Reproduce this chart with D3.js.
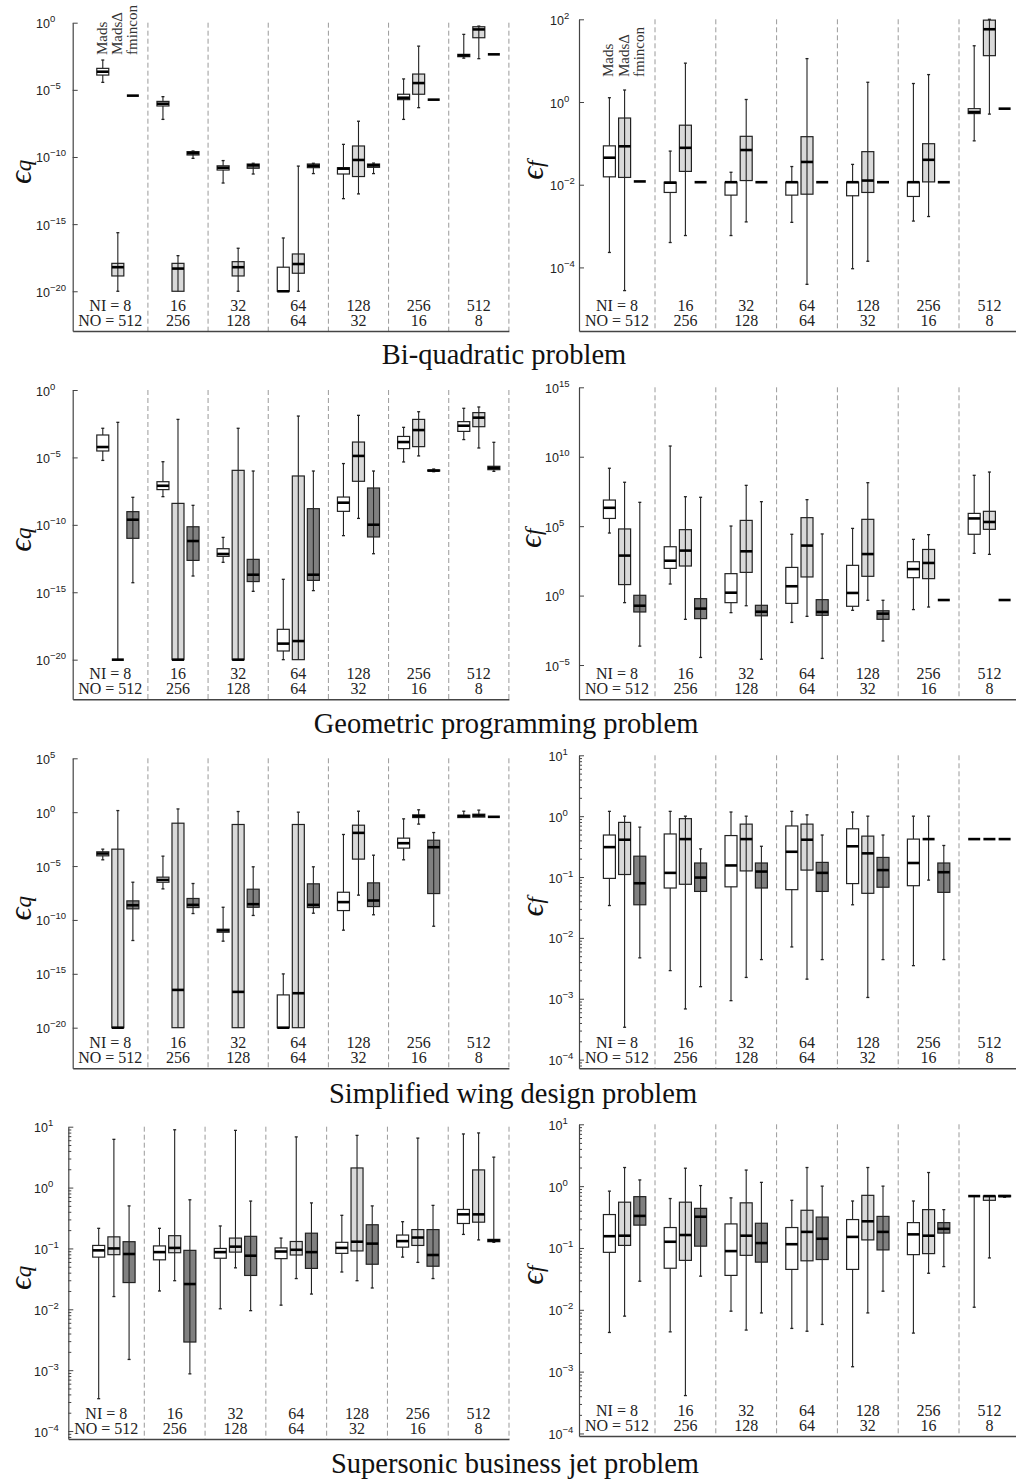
<!DOCTYPE html>
<html><head><meta charset="utf-8">
<script src="https://cdn.jsdelivr.net/npm/d3@7"></script>
<style>body{margin:0;background:#fff}</style>
</head><body><svg id="c" width="1016" height="1482"></svg>
<script>
// ---------------- DATA ----------------
const NI = [8, 16, 32, 64, 128, 256, 512];
const NO = [512, 256, 128, 64, 32, 16, 8];
const methods = ["Mads", "MadsΔ", "fmincon"];
const titles = ["Bi-quadratic problem", "Geometric programming problem", "Simplified wing design problem", "Supersonic business jet problem"];
// each box: [min, q1, median, q3, max]
const bqQ_mads = [[3.6e-5,1.26e-4,2.24e-4,3.98e-4,1.66e-3],[6.3e-8,6.3e-7,9.3e-7,1.38e-6,3.1e-6],[1.15e-12,1.07e-11,1.6e-11,2.2e-11,5.4e-11],[1e-20,1e-20,1e-20,6.2e-19,9.3e-17],[7.9e-14,5.4e-12,1.35e-11,1.6e-11,8.7e-10],[6.3e-8,1.86e-6,2.6e-6,4.7e-6,6.5e-5],[2.3e-3,2.95e-3,3.7e-3,4.4e-3,0.135]];
const bqQ_madsD = [[1e-20,1.38e-19,6.2e-19,1.2e-18,2.3e-16],[1e-20,1e-20,4.9e-19,1.2e-18,4.5e-18],[1e-20,1.38e-19,6.2e-19,1.6e-18,1.6e-17],[1e-20,2.2e-19,1.07e-18,6.0e-18,2.1e-11],[1.78e-13,3.5e-12,6.0e-11,6.6e-10,4.6e-8],[4.7e-7,4.7e-6,3.2e-5,1.5e-4,1.8e-2],[2.1e-3,7.6e-2,0.316,0.50,0.56]];
const bqQ_fmin = [[3.7e-6,3.7e-6,3.7e-6,3.7e-6,3.7e-6],[7.9e-11,1.41e-10,2.0e-10,2.5e-10,2.8e-10],[5.4e-12,1.45e-11,2.4e-11,3.0e-11,3.4e-11],[5.8e-12,1.6e-11,2.2e-11,3.0e-11,3.4e-11],[5.8e-12,1.7e-11,2.4e-11,3.0e-11,3.5e-11],[1.86e-6,1.86e-6,1.86e-6,1.86e-6,1.86e-6],[4.4e-3,4.4e-3,4.4e-3,4.4e-3,4.4e-3]];

const bqF_mads = [[2.3e-4,1.55e-2,4.5e-2,8.7e-2,1.27],[4.0e-4,6.5e-3,1.12e-2,1.15e-2,6.5e-2],[5.9e-4,5.6e-3,1.15e-2,1.15e-2,2.0e-2],[1.23e-3,5.6e-3,1.15e-2,1.15e-2,2.75e-2],[9.3e-5,5.4e-3,1.15e-2,1.15e-2,3.1e-2],[1.32e-3,5.2e-3,1.15e-2,1.15e-2,2.8],[0.115,0.525,0.575,0.69,22.9]];
const bqF_madsD = [[2.75e-5,1.5e-2,8.5e-2,0.41,1.95],[5.9e-4,2.1e-2,7.8e-2,0.275,8.7],[1.26e-3,1.26e-2,6.9e-2,0.148,1.15],[3.9e-5,5.9e-3,3.55e-2,0.145,11.2],[1.41e-4,6.5e-3,1.26e-2,6.3e-2,3.0],[1.7e-3,1.17e-2,4.0e-2,9.8e-2,4.6],[0.51,13.2,57.5,95.5,100]];
const bqF_fmin = [[1.2e-2,1.2e-2,1.2e-2,1.2e-2,1.2e-2],[1.15e-2,1.15e-2,1.15e-2,1.15e-2,1.15e-2],[1.15e-2,1.15e-2,1.15e-2,1.15e-2,1.15e-2],[1.15e-2,1.15e-2,1.15e-2,1.15e-2,1.15e-2],[1.15e-2,1.15e-2,1.15e-2,1.15e-2,1.15e-2],[1.15e-2,1.15e-2,1.15e-2,1.15e-2,1.15e-2],[0.69,0.69,0.69,0.69,0.69]];

const gpQ_mads = [[6.0e-6,3.0e-5,5.9e-5,4.6e-4,1.45e-3],[1.23e-8,4.1e-8,7.9e-8,1.58e-7,4.8e-6],[1.66e-13,4.6e-13,6.9e-13,1.7e-12,1.17e-11],[1e-20,4.4e-20,1.55e-19,1.78e-18,9.1e-15],[1.58e-11,1e-9,4.4e-9,1.15e-8,3.5e-6],[4.6e-6,4.5e-5,1.38e-4,3.6e-4,1.7e-3],[2.1e-4,8.5e-4,2.24e-3,4.5e-3,4.4e-2]];
const gpQ_madsD = [[1e-20,1e-20,1e-20,1e-20,4.0e-3],[1e-20,1e-20,1e-20,3.9e-9,6.6e-3],[1e-20,1e-20,1e-20,1.1e-6,1.45e-3],[1e-20,1e-20,2.4e-19,4.2e-7,1.17e-2],[3.0e-10,1.7e-7,1.29e-5,1.38e-4,1.32e-2],[1.29e-5,6.3e-5,1.07e-3,6.6e-3,2.45e-2],[5.0e-5,1.9e-3,8.9e-3,2.1e-2,5.5e-2]];
const gpQ_fmin = [[5.1e-15,1e-11,2.4e-10,9.5e-10,1.1e-8],[1.6e-14,2.3e-13,6.3e-12,7.2e-11,2.8e-9],[1.17e-15,6.2e-15,2.0e-14,2.75e-13,9.8e-7],[1.32e-15,7.6e-15,2.0e-14,1.58e-9,9.8e-7],[7.2e-13,1.26e-11,1.02e-10,5.4e-8,9.8e-7],[8.7e-7,9.8e-7,1.05e-6,1.17e-6,1.38e-6],[9.3e-7,1.23e-6,1.66e-6,2.2e-6,1.32e-4]];

const gpF_mads = [[3.2e4,3.6e5,2.1e6,7.6e6,1.48e9],[6.8,91,324,3.3e3,5.9e10],[5.9e-2,0.31,1.62,38,1.02e5],[1.17e-2,0.275,4.7,107,2.6e4],[8.7e-2,0.17,1.55,151,6.9e4],[9.8e-2,19.5,81,275,1.12e4],[1.1e3,2.6e4,3.6e5,8.3e5,4.6e8]];
const gpF_madsD = [[0.31,6.2,760,6.3e4,1.45e8],[1.95e-2,135,1.74e3,5.6e4,1.32e7],[0.186,47,1.55e3,2.6e5,8.7e7],[3.2e-2,22,4.0e3,4.1e5,8.1e6],[0.46,24.5,980,3.1e5,1.35e8],[0.15,16.6,224,2.1e3,2.45e4],[930,5.9e4,2.0e5,1.17e6,7.9e8]];
const gpF_fmin = [[2.3e-4,6.6e-2,0.186,1.05,5.2e6],[3.5e-5,2.2e-2,0.115,0.60,1.2e7],[2.6e-5,3.5e-2,6.9e-2,0.20,5.8e6],[3.0e-5,3.8e-2,6.6e-2,0.51,2.75e4],[5.4e-4,1.95e-2,5.0e-2,8.1e-2,0.46],[0.48,0.48,0.48,0.48,0.48],[0.48,0.48,0.48,0.48,0.48]];

const wgQ_mads = [[3.8e-5,8.9e-5,1.45e-4,2.1e-4,3.7e-4],[7.6e-8,3.16e-7,5.2e-7,9.3e-7,8.3e-5],[1.07e-12,7.2e-12,1.05e-11,1.38e-11,1.5e-9],[1e-20,1e-20,1e-20,1.1e-17,9.8e-16],[1.12e-11,7.4e-10,4.5e-9,3.7e-8,8.5e-3],[3.8e-5,4.6e-4,1.32e-3,3.9e-3,0.24],[0.316,0.316,0.43,0.525,1.23]];
const wgQ_madsD = [[1e-20,1e-20,1e-20,3.7e-4,1.41],[1e-20,1e-20,3.2e-17,9.5e-2,2.0],[1e-20,1e-20,2.1e-17,7.2e-2,1.15],[1e-20,1e-20,1.58e-17,7.2e-2,1.0],[2.0e-8,4.4e-5,1.2e-2,6.2e-2,1.23],[7.8e-2,0.316,0.43,0.56,1.66],[0.35,0.35,0.49,0.65,1.55]];
const wgQ_fmin = [[1.23e-12,1.07e-9,2.3e-9,5.9e-9,3.16e-7],[3.9e-10,1.41e-9,2.5e-9,9.8e-9,2.4e-7],[2.6e-10,1.5e-9,2.9e-9,7.1e-8,8.5e-6],[4.2e-10,1.41e-9,2.5e-9,2.24e-7,8.5e-6],[3.0e-10,1.74e-9,6.3e-9,2.75e-7,1.02e-4],[2.6e-11,2.8e-8,5.6e-4,2.5e-3,1.29e-2],[0.37,0.37,0.37,0.37,0.37]];

const wgF_mads = [[3.4e-2,9.5e-2,0.31,0.49,1.2],[2.9e-3,6.6e-2,0.117,0.51,1.2],[9.3e-4,6.9e-2,0.155,0.48,1.17],[7.1e-3,6.2e-2,0.26,0.69,1.2],[3.5e-2,7.8e-2,0.32,0.62,1.17],[3.5e-3,7.2e-2,0.17,0.42,1.0],[0.42,0.42,0.42,0.42,0.42]];
const wgF_madsD = [[3.4e-4,0.11,0.41,0.79,1.0],[6.8e-4,7.6e-2,0.42,0.91,1.0],[2.24e-3,0.126,0.42,0.74,1.0],[2.1e-3,0.13,0.41,0.74,1.05],[1.05e-3,5.4e-2,0.245,0.47,1.0],[8.9e-2,0.42,0.42,0.42,1.0],[0.42,0.42,0.42,0.42,0.42]];
const wgF_fmin = [[4.7e-3,3.5e-2,7.9e-2,0.22,0.66],[1.58e-3,5.8e-2,9.8e-2,0.17,0.29],[4.4e-3,6.6e-2,0.123,0.17,0.32],[4.4e-3,5.8e-2,0.117,0.174,0.49],[4.4e-3,6.8e-2,0.13,0.21,0.49],[4.4e-3,5.6e-2,0.12,0.17,0.33],[0.42,0.42,0.42,0.42,0.42]];

const sbQ_mads = [[3.4e-4,7.2e-2,9.3e-2,0.112,0.214],[2.0e-2,6.5e-2,8.7e-2,0.11,0.214],[1.02e-2,6.9e-2,8.7e-2,0.10,0.234],[1.17e-2,6.8e-2,8.9e-2,0.102,0.148],[4.1e-2,8.3e-2,0.102,0.126,0.35],[7.2e-2,0.105,0.132,0.166,0.275],[0.17,0.257,0.363,0.437,7.6]];
const sbQ_madsD = [[1.62e-2,7.9e-2,0.10,0.155,6.2],[2.95e-2,8.5e-2,0.102,0.162,8.9],[4.8e-2,8.7e-2,0.107,0.148,8.7],[3.2e-2,7.8e-2,9.5e-2,0.13,6.8],[2.95e-2,9.1e-2,0.129,2.1,7.2],[5.9e-2,0.112,0.151,0.204,6.5],[0.138,0.27,0.363,1.95,7.9]];
const sbQ_fmin = [[1.5e-3,2.75e-2,8.1e-2,0.129,0.50],[8.7e-4,2.9e-3,2.6e-2,9.3e-2,0.63],[9.5e-3,3.6e-2,7.6e-2,0.158,0.60],[1.78e-2,4.7e-2,8.7e-2,0.178,0.56],[2.24e-2,5.5e-2,0.12,0.245,0.50],[3.2e-2,5.1e-2,7.8e-2,0.204,0.51],[0.126,0.129,0.135,0.141,3.16]];

const sbF_mads = [[4.3e-3,8.5e-2,0.155,0.347,0.83],[4.4e-3,4.7e-2,0.126,0.214,0.63],[9.5e-3,3.6e-2,8.9e-2,0.245,0.646],[5.0e-3,4.5e-2,0.115,0.214,0.59],[1.2e-3,4.5e-2,0.151,0.288,0.575],[4.2e-3,7.8e-2,0.166,0.257,0.575],[1.1e-2,0.69,0.69,0.69,0.69]];
const sbF_madsD = [[7.9e-3,0.11,0.158,0.55,2.0],[4.1e-4,6.3e-2,0.162,0.55,1.95],[4.7e-3,7.6e-2,0.158,0.537,1.82],[4.5e-3,6.2e-2,0.182,0.407,2.0],[8.9e-3,0.135,0.27,0.71,2.0],[3.9e-2,8.1e-2,0.158,0.417,1.66],[6.9e-2,0.59,0.69,0.69,0.69]];
const sbF_fmin = [[2.9e-2,0.234,0.33,0.676,1.26],[3.5e-2,0.107,0.32,0.437,1.02],[8.9e-3,5.9e-2,0.12,0.251,1.15],[5.8e-3,6.5e-2,0.141,0.316,1.0],[2.0e-2,9.3e-2,0.182,0.324,1.0],[5.0e-2,0.174,0.204,0.257,0.417],[0.66,0.676,0.69,0.708,0.708]];

// tick values
const ticksQ20 = [1e0, 1e-5, 1e-10, 1e-15, 1e-20];
const ticksBqF = [1e2, 1e0, 1e-2, 1e-4];
const ticksGpF = [1e15, 1e10, 1e5, 1e0, 1e-5];
const ticksWgQ = [1e5, 1e0, 1e-5, 1e-10, 1e-15, 1e-20];
const ticksSmall = [1e1, 1e0, 1e-1, 1e-2, 1e-3, 1e-4];

// ---------------- LAYOUT ----------------
const fills = ["#ffffff", "#d9d9d9", "#808080"];
const panels = [
  {data:[bqQ_mads,bqQ_madsD,bqQ_fmin], lo:1.1e-23, hi:1,    x0:72.7, x1:508.9, top:22.7,  bottom:331,    ticks:ticksQ20,  minor:false, sub:"q", lx:36,    yl:31,  mlab:55},
  {data:[bqF_mads,bqF_madsD,bqF_fmin], lo:2.9e-6,  hi:100,  x0:579,  x1:1019.8,top:19.3,  bottom:331,    ticks:ticksBqF,  minor:false, sub:"f", lx:550,   yl:543, mlab:77},
  {data:[gpQ_mads,gpQ_madsD,gpQ_fmin], lo:1.15e-23,hi:1,    x0:72.7, x1:508.9, top:390,   bottom:699.3,  ticks:ticksQ20,  minor:false, sub:"q", lx:36,    yl:31},
  {data:[gpF_mads,gpF_madsD,gpF_fmin], lo:3.4e-8,  hi:1e15, x0:579,  x1:1019.8,top:387.3, bottom:699.3,  ticks:ticksGpF,  minor:false, sub:"f", lx:545,   yl:541},
  {data:[wgQ_mads,wgQ_madsD,wgQ_fmin], lo:1.7e-24, hi:1e5,  x0:72.7, x1:508.9, top:758.3, bottom:1068.3, ticks:ticksWgQ,  minor:false, sub:"q", lx:36,    yl:31},
  {data:[wgF_mads,wgF_madsD,wgF_fmin], lo:7.2e-5,  hi:10,   x0:579,  x1:1019.8,top:755.3, bottom:1068.3, ticks:ticksSmall,minor:true,  sub:"f", lx:548.5, yl:543},
  {data:[sbQ_mads,sbQ_madsD,sbQ_fmin], lo:7.4e-5,  hi:10,   x0:68.3, x1:509,   top:1126.7,bottom:1439,   ticks:ticksSmall,minor:true,  sub:"q", lx:34,    yl:31},
  {data:[sbF_mads,sbF_madsD,sbF_fmin], lo:9.1e-5,  hi:10,   x0:579,  x1:1019.8,top:1124.3,bottom:1436,   ticks:ticksSmall,minor:true,  sub:"f", lx:548.5, yl:543}
];
const titlePos = [[504,364],[506,733],[513,1103],[515,1473]];

const svg = d3.select("#c");
svg.append("rect").attr("width",1016).attr("height",1482).attr("fill","#fff");
const SERIF = "'Liberation Serif','DejaVu Serif',serif";
const SANS = "'Liberation Sans',Arial,sans-serif";

panels.forEach((p, pi) => {
  const g = svg.append("g");
  const x = d3.scaleLinear().domain([-2, 27]).range([p.x0, p.x1]);
  const y = d3.scaleLog().domain([p.lo, p.hi]).range([p.bottom, p.top]);
  const bw = 6;

  // group separators
  d3.range(7).forEach(k => {
    g.append("line").attr("x1", x(3 + 4*k)).attr("x2", x(3 + 4*k))
      .attr("y1", p.top).attr("y2", p.bottom)
      .attr("stroke", "#9a9a9a").attr("stroke-width", 1).attr("stroke-dasharray", "5,3");
  });

  // y axis (ticks pointing inward)
  const ax = g.append("g").attr("transform", `translate(${p.x0},0)`)
    .call(d3.axisRight(y).tickValues(p.ticks).tickSize(5).tickSizeOuter(0).tickFormat(""));
  ax.select(".domain").attr("stroke", "#444").attr("stroke-width", 1.2);
  ax.selectAll(".tick line").attr("stroke", "#444");
  if (p.minor) {
    const mv = [];
    for (let k = -5; k <= 1; k++) for (let m = 2; m <= 9; m++) {
      const v = m * Math.pow(10, k);
      if (v > p.lo && v < p.hi) mv.push(v);
    }
    const am = g.append("g").attr("transform", `translate(${p.x0},0)`)
      .call(d3.axisRight(y).tickValues(mv).tickSize(3).tickSizeOuter(0).tickFormat(""));
    am.select(".domain").remove();
    am.selectAll(".tick line").attr("stroke", "#444");
  }
  // x axis (bottom line only)
  const bx = g.append("g").attr("transform", `translate(0,${p.bottom})`)
    .call(d3.axisBottom(x).tickValues([]).tickSizeOuter(0));
  bx.select(".domain").attr("stroke", "#444").attr("stroke-width", 1.5);

  // tick labels 10^e
  p.ticks.forEach(v => {
    const e = Math.round(Math.log10(v));
    const t = g.append("text").attr("x", p.lx).attr("y", y(v) + 5.5)
      .attr("font-family", SANS).attr("font-size", 12.5).attr("fill", "#222");
    t.append("tspan").text("10");
    t.append("tspan").attr("font-size", 9.5).attr("dy", -6).text(e < 0 ? "−" + (-e) : String(e));
  });

  // y label
  const yl = g.append("text")
    .attr("transform", `translate(${p.yl},${(p.top + p.bottom)/2 - 5}) rotate(-90)`)
    .attr("text-anchor", "middle").attr("font-family", SERIF).attr("font-style", "italic").attr("fill", "#111");
  yl.append("tspan").attr("font-size", 32).text("ϵ");
  yl.append("tspan").attr("font-size", 23).attr("dy", 0).text(p.sub);

  // boxes
  p.data.forEach((series, s) => {
    series.forEach((st, gi) => {
      const [mn, q1, md, q3, mx] = st;
      const cx = x(gi*4 + s);
      const bg = g.append("g");
      if (q3 > q1) {
        bg.append("rect").attr("x", cx - bw).attr("width", 2*bw)
          .attr("y", y(q3)).attr("height", y(q1) - y(q3))
          .attr("fill", fills[s]).attr("stroke", "#222").attr("stroke-width", 1.2);
      }
      const wl = (a, b) => bg.append("line").attr("x1", cx).attr("x2", cx).attr("y1", y(a)).attr("y2", y(b))
        .attr("stroke", "#222").attr("stroke-width", 1.1);
      if (s === 0) {
        if (mx > q3) wl(mx, q3);
        if (mn < q1) wl(q1, mn);
      } else {
        if (mx > mn) wl(mx, mn);
      }
      const cap = v => bg.append("line").attr("x1", cx - 1.5).attr("x2", cx + 1.5).attr("y1", y(v)).attr("y2", y(v))
        .attr("stroke", "#222").attr("stroke-width", 1.3);
      if (mx > q3) cap(mx);
      if (mn < q1) cap(mn);
      bg.append("line").attr("x1", cx - bw).attr("x2", cx + bw).attr("y1", y(md)).attr("y2", y(md))
        .attr("stroke", "#000").attr("stroke-width", 2.6);
    });
  });

  // group labels
  NI.forEach((ni, gi) => {
    const cx = gi === 0 ? x(0.5) : x(gi*4 + 1);
    const t1 = gi === 0 ? "NI = " + ni : String(ni);
    const t2 = gi === 0 ? "NO = " + NO[gi] : String(NO[gi]);
    g.append("text").attr("x", cx).attr("y", p.bottom - 20).attr("text-anchor", "middle")
      .attr("font-family", SERIF).attr("font-size", 16).attr("fill", "#222").text(t1);
    g.append("text").attr("x", cx).attr("y", p.bottom - 5.5).attr("text-anchor", "middle")
      .attr("font-family", SERIF).attr("font-size", 16).attr("fill", "#222").text(t2);
  });

  // method labels (first row only)
  if (p.mlab !== undefined) {
    methods.forEach((m, s) => {
      g.append("text").attr("transform", `translate(${x(s) + 4},${p.mlab}) rotate(-90)`)
        .attr("font-family", SERIF).attr("font-size", 15).attr("fill", "#333").text(m);
    });
  }
});

titles.forEach((t, i) => {
  svg.append("text").attr("x", titlePos[i][0]).attr("y", titlePos[i][1]).attr("text-anchor", "middle")
    .attr("font-family", SERIF).attr("font-size", 28.5).attr("fill", "#111").text(t);
});
</script>
</body></html>
